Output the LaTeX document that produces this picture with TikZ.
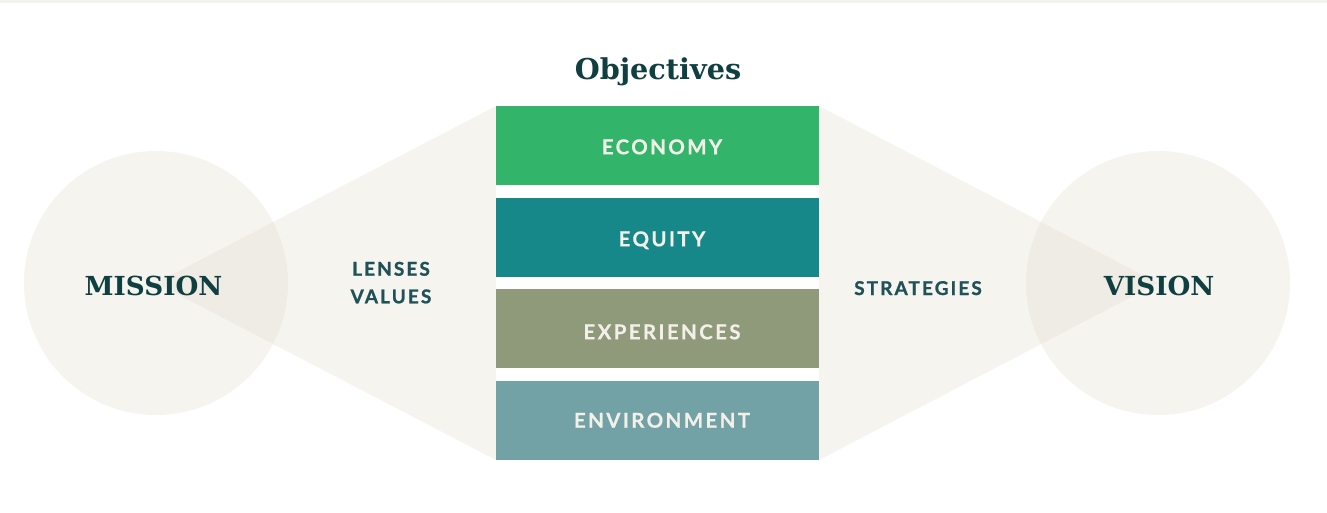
\documentclass[tikz,border=0pt]{standalone}
\usepackage{fontspec}
\setmainfont{DejaVu Serif}
\newfontfamily\headfont{DejaVu Serif}
\newfontfamily\boxcapsfont{Lato}[LetterSpace=11.5, BoldFeatures={FakeBold=0.5}]
\newfontfamily\sidecapsfont{Lato}[LetterSpace=11, BoldFeatures={FakeBold=1}]
\usetikzlibrary{positioning}

\definecolor{topband}{HTML}{F3F3EE}
\definecolor{shade}{HTML}{E2DECF}
\definecolor{ink}{HTML}{0F3F40}
\definecolor{capsink}{HTML}{1F5157}
\definecolor{boxtext}{HTML}{F2F0E8}
\definecolor{economy}{HTML}{32B56A}
\definecolor{equity}{HTML}{17888A}
\definecolor{experiences}{HTML}{8F9A7B}
\definecolor{environment}{HTML}{72A2A6}

\tikzset{
  pane/.style={fill=shade, fill opacity=0.32, draw=none},
  objbox/.style={rectangle, draw=none, inner sep=0pt, anchor=north west,
    minimum width=323pt, minimum height=79pt},
  objlabel/.style={anchor=base, inner sep=0pt, text=boxtext,
    font=\boxcapsfont\bfseries\fontsize{20.5}{21}\selectfont},
  sidelabel/.style={anchor=base, inner sep=0pt, text=capsink,
    font=\sidecapsfont\bfseries\fontsize{19}{20}\selectfont},
  bigword/.style={anchor=base, inner sep=0pt, text=ink,
    font=\headfont\bfseries\fontsize{26.2}{28}\selectfont},
}

\begin{document}
\begin{tikzpicture}[x=1pt, y=-1pt]
  \useasboundingbox (0,0) rectangle (1327,512);
  \fill[white] (0,0) rectangle (1327,512);
  \fill[topband] (0,0) rectangle (1327,2.5);

  % anchor points of the two funnels
  \coordinate (mc) at (156,283);
  \coordinate (vc) at (1158,283);
  \coordinate (lt) at (496,106);
  \coordinate (lb) at (496,460);
  \coordinate (rt) at (819,106);
  \coordinate (rb) at (819,460);

  % translucent circles and funnels
  \fill[pane] (mc) circle[radius=132];
  \fill[pane] (vc) circle[radius=132];
  \fill[pane] (mc) -- (lt) -- (lb) -- cycle;
  \fill[pane] (vc) -- (rt) -- (rb) -- cycle;

  % stack of objectives
  \node[objbox, fill=economy]     (economy)     at (496,106) {};
  \node[objbox, fill=equity]      (equity)      at (496,198) {};
  \node[objbox, fill=experiences] (experiences) at (496,289) {};
  \node[objbox, fill=environment] (environment) at (496,381) {};

  \node[objlabel] (economyl)     at (662,154.3) {ECONOMY};
  \node[objlabel] (equityl)      at (662,246.3) {EQUITY};
  \node[objlabel] (experiencesl) at (662,339.3) {EXPERIENCES};
  \node[objlabel] (environmentl) at (662,427.7) {ENVIRONMENT};

  % headings and side labels
  \node[bigword, font=\headfont\bfseries\fontsize{28.7}{30}\selectfont] (title) at (658,79) {Objectives};
  \node[bigword] (mission) at (153.5,295) {MISSION};
  \node[bigword] (vision)  at (1159,295) {VISION};

  \node[sidelabel] (lenses)     at (391,275.7) {LENSES};
  \node[sidelabel] (values)     at (391,303.3) {VALUES};
  \node[sidelabel] (strategies) at (918,295) {STRATEGIES};
\end{tikzpicture}
\end{document}
